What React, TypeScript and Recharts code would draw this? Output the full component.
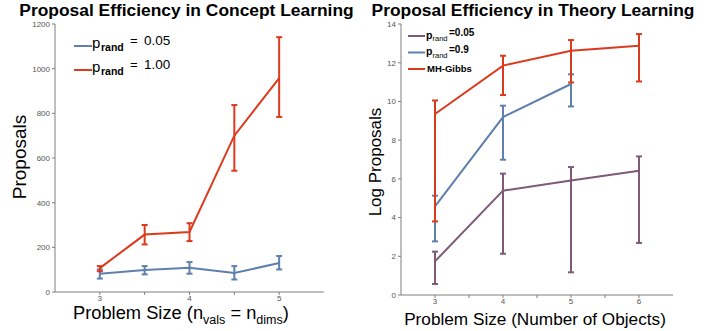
import { LineChart, Line, XAxis, YAxis, ErrorBar } from 'recharts';

// concept learning (left panel)
const conceptSize = [3, 3.5, 4, 4.5, 5];
const conceptLowMean = [82, 98, 109, 85, 130];
const conceptLowLo = [60, 79, 82, 56, 101];
const conceptLowHi = [101, 116, 134, 116, 161];
const conceptHighMean = [107, 257, 269, 700, 958];
const conceptHighLo = [93, 213, 228, 543, 784];
const conceptHighHi = [116, 300, 308, 837, 1141];
const conceptTicksX = [3, 3.5, 4, 4.5, 5];
const conceptTicksY = [0, 200, 400, 600, 800, 1000, 1200];

// theory learning (right panel)
const theorySize = [3, 4, 5, 6];
const gibbsMean = [9.35, 11.85, 12.62, 12.88];
const gibbsLo = [3.8, 10.33, 10.98, 11.03];
const gibbsHi = [10.05, 12.36, 13.17, 13.48];
const p09Mean = [4.58, 9.19, 10.9];
const p09Lo = [2.77, 6.99, 9.74];
const p09Hi = [5.13, 9.78, 11.4];
const p005Mean = [1.74, 5.39, 5.92, 6.42];
const p005Lo = [0.57, 2.13, 1.17, 2.69];
const p005Hi = [2.24, 6.27, 6.61, 7.16];
const theoryTicksX = [3, 3.5, 4, 4.5, 5, 5.5, 6];
const theoryTicksY = [0, 2, 4, 6, 8, 10, 12, 14];

const RED = '#dc3a1c';
const BLUE = '#5f7fae';
const PURPLE = '#7e5a76';
const AXIS = '#7f7f7f';
const FONT = '"Liberation Sans", Arial, sans-serif';

function rows(xs: number[], mean: number[], lo: number[], hi: number[]) {
  return mean.map((m, i) => ({ x: xs[i], y: m, err: [m - lo[i], hi[i] - m] }));
}

const lowRows = rows(conceptSize, conceptLowMean, conceptLowLo, conceptLowHi);
const highRows = rows(conceptSize, conceptHighMean, conceptHighLo, conceptHighHi);
const gibbsRows = rows(theorySize, gibbsMean, gibbsLo, gibbsHi);
const p09Rows = rows(theorySize, p09Mean, p09Lo, p09Hi);
const p005Rows = rows(theorySize, p005Mean, p005Lo, p005Hi);

const tickStyle = { fill: '#555', fontSize: 8, fontFamily: FONT };
const intOnly = (v: number) => (Number.isInteger(v) ? String(v) : '');
const blank = () => '';

function Series({ data, color }: { data: any[]; color: string }) {
  return (
    <Line
      data={data}
      dataKey="y"
      type="linear"
      stroke={color}
      strokeWidth={2}
      dot={false}
      isAnimationActive={false}
    >
      <ErrorBar dataKey="err" direction="y" width={3} stroke={color} strokeWidth={2} isAnimationActive={false} />
    </Line>
  );
}

export default function App() {
  return (
    <div style={{ position: 'absolute', left: 0, top: 0, width: 716, height: 331, background: '#fff' }}>
      <div style={{ position: 'absolute', left: 0, top: 0 }}>
        <LineChart width={360} height={331} margin={{ top: 24, right: 36, bottom: 0, left: 0 }}>
          <XAxis dataKey="x" type="number" domain={[2.5, 5.5]} ticks={conceptTicksX} tickFormatter={intOnly}
            height={39} tickSize={3} tickMargin={0} stroke={AXIS} tick={tickStyle} allowDataOverflow />
          <XAxis xAxisId="top" orientation="top" type="number" domain={[2.5, 5.5]} ticks={conceptTicksX}
            tickFormatter={blank} height={0} tickSize={3} stroke={AXIS} allowDataOverflow />
          <YAxis type="number" domain={[0, 1200]} ticks={conceptTicksY} width={55} tickSize={3} tickMargin={2}
            stroke={AXIS} tick={tickStyle} />
          <YAxis yAxisId="r" orientation="right" type="number" domain={[0, 1200]} ticks={conceptTicksY} width={0}
            tickFormatter={blank} tickSize={3} stroke={AXIS} />
          {Series({ data: lowRows, color: BLUE })}
          {Series({ data: highRows, color: RED })}
        </LineChart>
      </div>
      <div style={{ position: 'absolute', left: 360, top: 0 }}>
        <LineChart width={356} height={331} margin={{ top: 24, right: 43, bottom: 0, left: 0 }}>
          <XAxis dataKey="x" type="number" domain={[2.5, 6.5]} ticks={theoryTicksX} tickFormatter={intOnly}
            height={36} tickSize={3} tickMargin={0} stroke={AXIS} tick={tickStyle} allowDataOverflow />
          <XAxis xAxisId="top" orientation="top" type="number" domain={[2.5, 6.5]} ticks={theoryTicksX}
            tickFormatter={blank} height={0} tickSize={3} stroke={AXIS} allowDataOverflow />
          <YAxis type="number" domain={[0, 14]} ticks={theoryTicksY} width={41} tickSize={3} tickMargin={2}
            stroke={AXIS} tick={tickStyle} />
          <YAxis yAxisId="r" orientation="right" type="number" domain={[0, 14]} ticks={theoryTicksY} width={0}
            tickFormatter={blank} tickSize={3} stroke={AXIS} />
          {Series({ data: p005Rows, color: PURPLE })}
          {Series({ data: p09Rows, color: BLUE })}
          {Series({ data: gibbsRows, color: RED })}
        </LineChart>
      </div>
      <svg width={716} height={331} style={{ position: 'absolute', left: 0, top: 0, pointerEvents: 'none' }}
        fontFamily={FONT}>
        <text x={186.5} y={16} textAnchor="middle" fontSize={17.4} fontWeight="bold">Proposal Efficiency in Concept Learning</text>
        <text x={533} y={16} textAnchor="middle" fontSize={17.4} fontWeight="bold">Proposal Efficiency in Theory Learning</text>
        <text x={73} y={319} fontSize={18.3}>
          Problem Size (n<tspan fontSize={12.5} dy={5}>vals</tspan>
          <tspan dy={-5}> = n</tspan><tspan fontSize={12.5} dy={5}>dims</tspan><tspan dy={-5}>)</tspan>
        </text>
        <text x={535} y={325} textAnchor="middle" fontSize={17.2}>Problem Size (Number of Objects)</text>
        <text transform="translate(26,157) rotate(-90)" textAnchor="middle" fontSize={19}>Proposals</text>
        <text transform="translate(381,162) rotate(-90)" textAnchor="middle" fontSize={17}>Log Proposals</text>

        {/* left legend */}
        <line x1={74} x2={92} y1={46} y2={46} stroke={BLUE} strokeWidth={2} />
        <text x={92} y={48} fontSize={15}>p</text>
        <text x={101} y={51} fontSize={10.5} fontWeight="bold">rand</text>
        <text x={130} y={45} fontSize={13}>=</text>
        <text x={144} y={45} fontSize={13.5}>0.05</text>
        <line x1={74} x2={92} y1={70} y2={70} stroke={RED} strokeWidth={2} />
        <text x={92} y={72} fontSize={15}>p</text>
        <text x={101} y={75} fontSize={10.5} fontWeight="bold">rand</text>
        <text x={130} y={69} fontSize={13}>=</text>
        <text x={144} y={69} fontSize={13.5}>1.00</text>

        {/* right legend */}
        <line x1={408} x2={425} y1={36} y2={36} stroke={PURPLE} strokeWidth={2} />
        <text x={426} y={38.5} fontSize={10.5} fontWeight="bold">p</text>
        <text x={432.5} y={41} fontSize={7.5}>rand</text>
        <text x={449} y={36} fontSize={10} fontWeight="bold">=0.05</text>
        <line x1={408} x2={425} y1={52.5} y2={52.5} stroke={BLUE} strokeWidth={2} />
        <text x={426} y={55} fontSize={10.5} fontWeight="bold">p</text>
        <text x={432.5} y={57.5} fontSize={7.5}>rand</text>
        <text x={449} y={52.5} fontSize={10} fontWeight="bold">=0.9</text>
        <line x1={408} x2={425} y1={69} y2={69} stroke={RED} strokeWidth={2} />
        <text x={427} y={72} fontSize={9.5} fontWeight="bold">MH-Gibbs</text>
      </svg>
    </div>
  );
}
